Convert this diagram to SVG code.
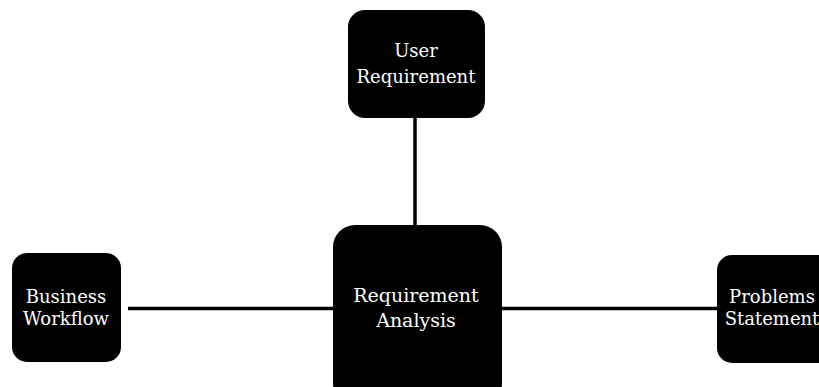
<svg xmlns="http://www.w3.org/2000/svg" width="819" height="387" viewBox="0 0 819 387">
  <style>
    .box { fill: #000; }
    .label { fill: #fff; font-family: "DejaVu Serif", "Liberation Serif", serif; font-size: 18px; text-anchor: middle; }
    .big { font-size: 19px; }
    .link { stroke: #000; stroke-width: 3.5; fill: none; }
  </style>
  <rect width="819" height="387" fill="#fff"/>
  <g id="connectors">
    <line class="link" x1="415" y1="118" x2="415" y2="226"/>
    <line class="link" x1="128" y1="308.5" x2="334" y2="308.5"/>
    <line class="link" x1="501" y1="308.5" x2="718" y2="308.5"/>
  </g>
  <g id="user-requirement">
    <rect class="box" x="348" y="10" width="137" height="108" rx="17"/>
    <text class="label" x="416" y="57">User</text>
    <text class="label" x="416" y="83">Requirement</text>
  </g>
  <g id="requirement-analysis">
    <rect class="box" x="333" y="225" width="169" height="180" rx="22"/>
    <text class="label big" x="416" y="302">Requirement</text>
    <text class="label big" x="416" y="327">Analysis</text>
  </g>
  <g id="business-workflow">
    <rect class="box" x="12" y="253" width="109" height="109" rx="15"/>
    <text class="label" x="66" y="303">Business</text>
    <text class="label" x="66" y="325">Workflow</text>
  </g>
  <g id="problems-statement">
    <rect class="box" x="717" y="255" width="130" height="108" rx="15"/>
    <text class="label" x="772" y="303">Problems</text>
    <text class="label" x="772" y="325">Statement</text>
  </g>
</svg>
